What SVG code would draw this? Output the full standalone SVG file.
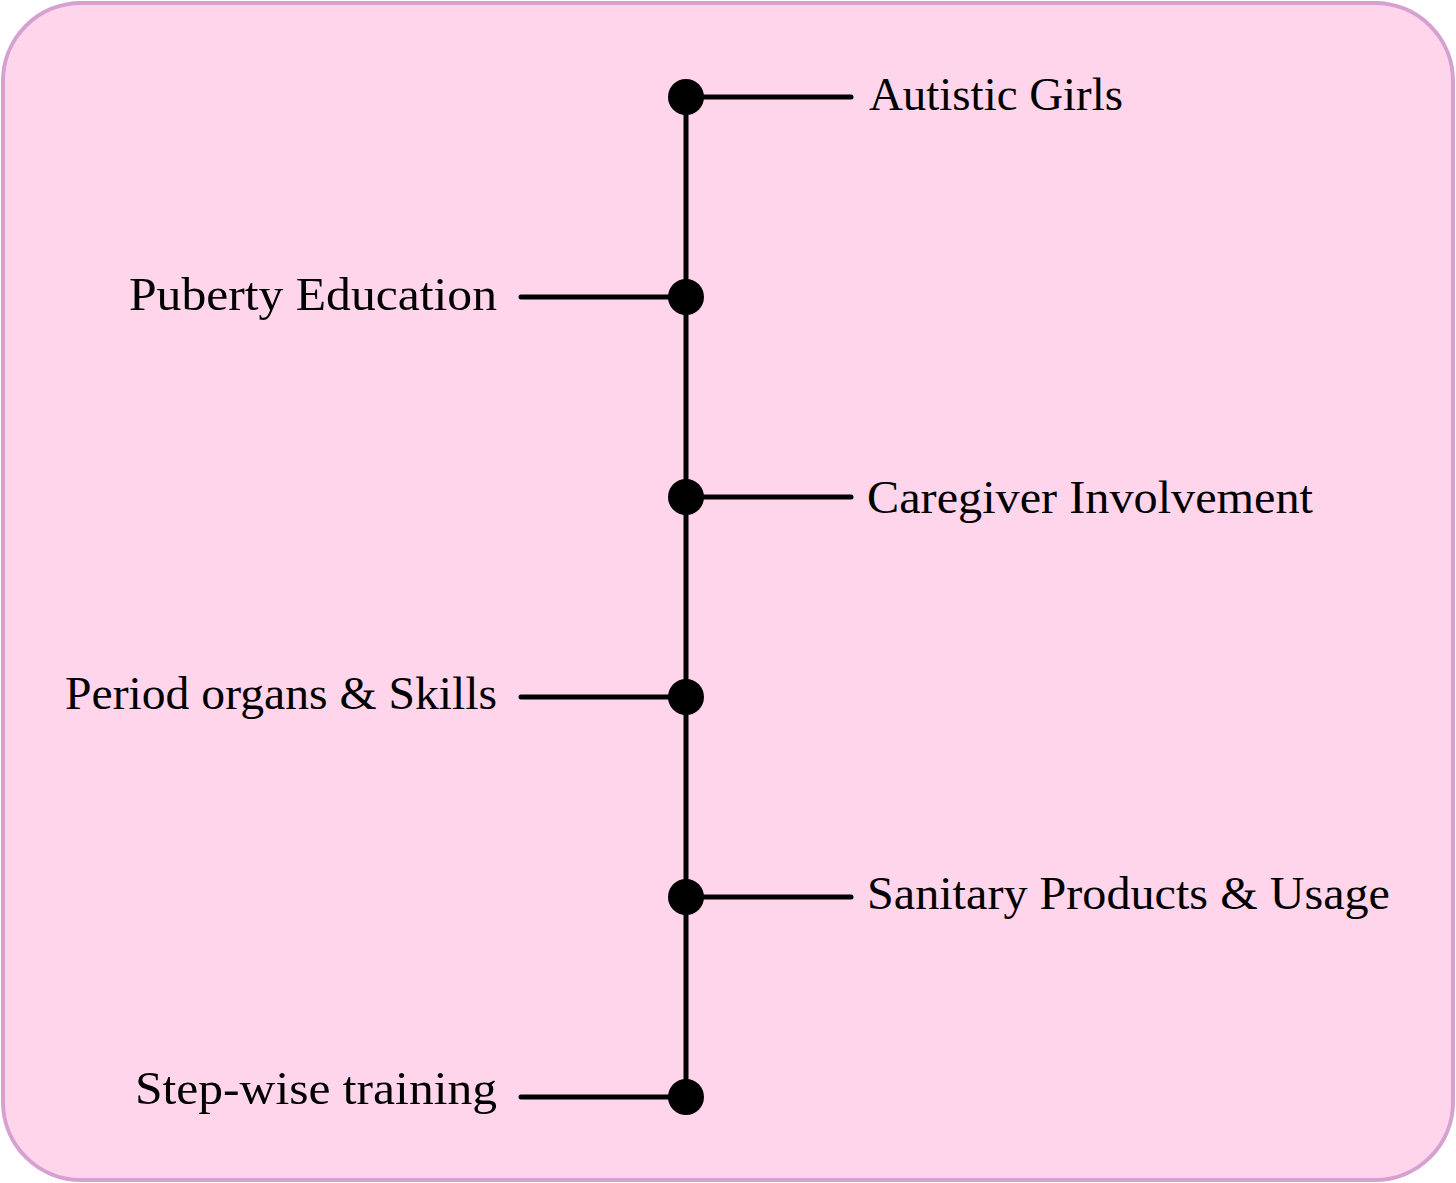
<svg xmlns="http://www.w3.org/2000/svg" width="1456" height="1183" viewBox="0 0 1456 1183">
<style>
.lbl{font-family:"Liberation Serif","DejaVu Serif",serif;font-size:47px;fill:#000}
.ln{stroke:#000;stroke-width:5;stroke-linecap:round;fill:none}
.dot{fill:#000}
</style>
<rect x="3" y="3" width="1450" height="1177" rx="78" ry="78" fill="#ffd5ec" stroke="#d6a0d0" stroke-width="4"/>
<g id="connectors">
<line class="ln" x1="686" y1="97" x2="686" y2="1097"/>
<line class="ln" x1="686" y1="97" x2="851" y2="97"/>
<line class="ln" x1="521" y1="297" x2="686" y2="297"/>
<line class="ln" x1="686" y1="497" x2="851" y2="497"/>
<line class="ln" x1="521" y1="697" x2="686" y2="697"/>
<line class="ln" x1="686" y1="897" x2="851" y2="897"/>
<line class="ln" x1="521" y1="1097" x2="686" y2="1097"/>
</g>
<g id="node1"><circle class="dot" cx="686" cy="97" r="18"/><text class="lbl" x="869" y="110" textLength="254" lengthAdjust="spacingAndGlyphs">Autistic Girls</text></g>
<g id="node2"><circle class="dot" cx="686" cy="297" r="18"/><text class="lbl" x="129" y="310" textLength="368" lengthAdjust="spacingAndGlyphs">Puberty Education</text></g>
<g id="node3"><circle class="dot" cx="686" cy="497" r="18"/><text class="lbl" x="867" y="513" textLength="446" lengthAdjust="spacingAndGlyphs">Caregiver Involvement</text></g>
<g id="node4"><circle class="dot" cx="686" cy="697" r="18"/><text class="lbl" x="65" y="709" textLength="432" lengthAdjust="spacingAndGlyphs">Period organs &amp; Skills</text></g>
<g id="node5"><circle class="dot" cx="686" cy="897" r="18"/><text class="lbl" x="867" y="909" textLength="523" lengthAdjust="spacingAndGlyphs">Sanitary Products &amp; Usage</text></g>
<g id="node6"><circle class="dot" cx="686" cy="1097" r="18"/><text class="lbl" x="135" y="1104" textLength="362" lengthAdjust="spacingAndGlyphs">Step-wise training</text></g>
</svg>
